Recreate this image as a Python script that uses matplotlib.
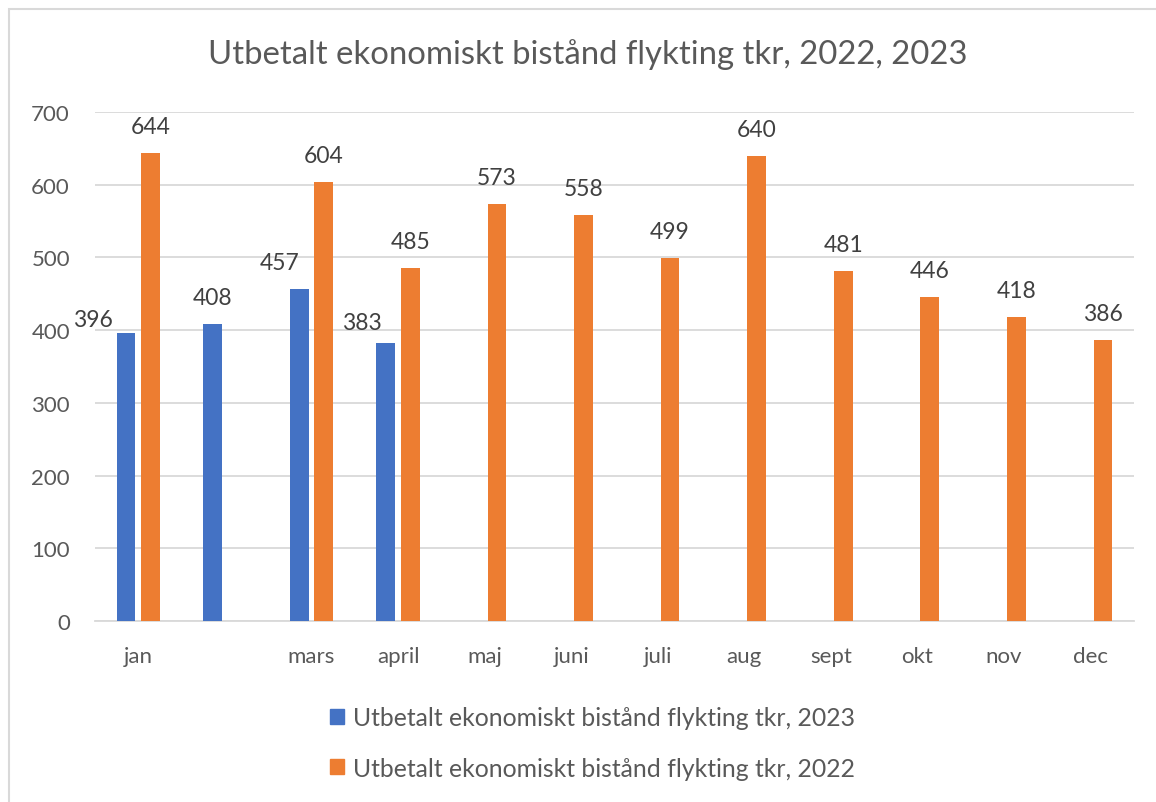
import matplotlib
matplotlib.use('Agg')
import matplotlib.pyplot as plt
import matplotlib.patches as mpatches
import numpy as np

# månader (februari saknar etikett i originalet)
manader = ['jan', '', 'mars', 'april', 'maj', 'juni', 'juli', 'aug', 'sept', 'okt', 'nov', 'dec']
belopp_2023 = [396, 408, 457, 383, None, None, None, None, None, None, None, None]
belopp_2022 = [644, None, 604, 485, 573, 558, 499, 640, 481, 446, 418, 386]
rubrik = 'Utbetalt ekonomiskt bistånd flykting tkr, 2022, 2023'
namn_2023 = 'Utbetalt ekonomiskt bistånd flykting tkr, 2023'
namn_2022 = 'Utbetalt ekonomiskt bistånd flykting tkr, 2022'

bla = '#4472C4'
orange = '#ED7D31'
grid_farg = '#D9D9D9'
text_farg = '#595959'
etikett_farg = '#404040'

# handflyttade dataetiketter (pixlar)
flytt_2023 = {0: (-33, -13), 2: (-20, 0), 3: (-24, -6)}

plt.rcParams['font.family'] = ['Lato', 'DejaVu Sans']

fig = plt.figure(figsize=(11.56, 8.03), dpi=100)
fig.patches.append(mpatches.Rectangle((9 / 1156, -0.05), 1.1, 1.05 - 10 / 803,
                                      transform=fig.transFigure, fill=False,
                                      edgecolor=grid_farg, linewidth=1.5))
ax = fig.add_axes([95 / 1156, 1 - 622 / 803, 1039 / 1156, 509 / 803])

x = np.arange(len(manader))
bredd = 0.216
forskj = 0.142

x23 = [i for i, v in enumerate(belopp_2023) if v is not None]
v23 = [belopp_2023[i] for i in x23]
x22 = [i for i, v in enumerate(belopp_2022) if v is not None]
v22 = [belopp_2022[i] for i in x22]

ax.bar(np.array(x23) - forskj, v23, width=bredd, color=bla, zorder=3)
ax.bar(np.array(x22) + forskj, v22, width=bredd, color=orange, zorder=3)

for i, v in zip(x23, v23):
    dx, dy = flytt_2023.get(i, (0, 0))
    ax.annotate(str(v), (i - forskj, v), xytext=(dx, 20 + dy), textcoords='offset pixels',
                ha='center', va='baseline', fontsize=16.5, color=etikett_farg)
for i, v in zip(x22, v22):
    ax.annotate(str(v), (i + forskj, v), xytext=(0, 20), textcoords='offset pixels',
                ha='center', va='baseline', fontsize=16.5, color=etikett_farg)

ax.set_xlim(-0.5, len(manader) - 0.5)
ax.set_ylim(0, 700)
ax.set_yticks(range(0, 701, 100))
ax.set_xticks(x)
ax.set_xticklabels(manader)
ax.tick_params(axis='both', length=0, labelsize=16, labelcolor=text_farg)
ax.tick_params(axis='y', pad=18)
ax.tick_params(axis='x', pad=18)
ax.grid(axis='y', color=grid_farg, linewidth=1.3, zorder=0)
for s in ['top', 'right', 'left']:
    ax.spines[s].set_visible(False)
ax.spines['bottom'].set_color(grid_farg)
ax.spines['bottom'].set_linewidth(1.3)

fig.text(0.5087, 1 - 55 / 803, rubrik, ha='center', va='center', fontsize=23.7,
         color=text_farg)

handtag = [mpatches.Patch(color=bla, label=namn_2023),
           mpatches.Patch(color=orange, label=namn_2022)]
leg = fig.legend(handles=handtag, loc='center left', bbox_to_anchor=(0.2855, 0.0735),
                 frameon=False, fontsize=17.8, handlelength=0.57, handleheight=0.57,
                 handletextpad=0.36, labelspacing=1.1, borderpad=0, borderaxespad=0)
for t in leg.get_texts():
    t.set_color(text_farg)

fig.savefig('out.png', dpi=100)
